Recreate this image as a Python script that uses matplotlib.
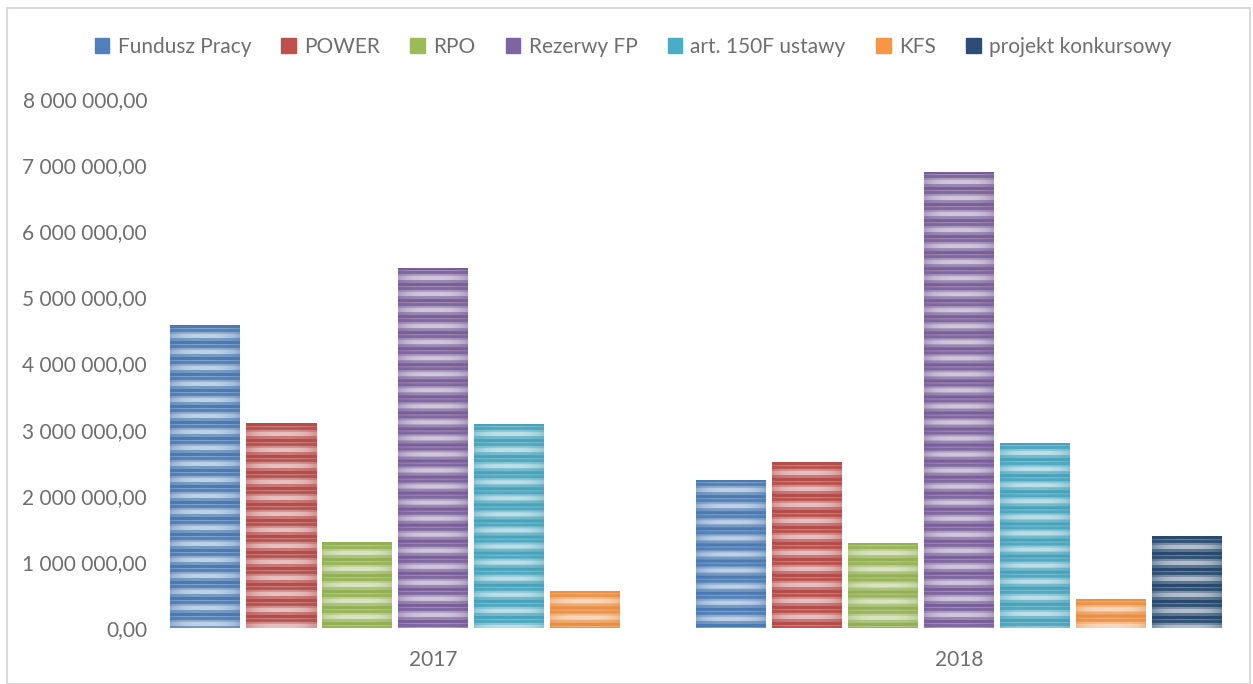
import numpy as np
import matplotlib
matplotlib.use("Agg")
import matplotlib.pyplot as plt
from matplotlib.patches import Rectangle
from matplotlib.ticker import FuncFormatter
from matplotlib.colors import to_rgb

# dane
years = ["2017", "2018"]
series = ["Fundusz Pracy", "POWER", "RPO", "Rezerwy FP",
          "art. 150F ustawy", "KFS", "projekt konkursowy"]
fundusz_pracy = [4580000, 2240000]
power = [3100000, 2510000]
rpo = [1300000, 1290000]
rezerwy_fp = [5450000, 6900000]
art_150f = [3090000, 2800000]
kfs = [560000, 440000]
projekt_konkursowy = [0, 1390000]
values = [fundusz_pracy, power, rpo, rezerwy_fp, art_150f, kfs, projekt_konkursowy]

colors = ["#4F81BD", "#C0504D", "#9BBB59", "#8064A2", "#4BACC6", "#F79646", "#2C4D75"]
text_col = "#6E6E6E"

plt.rcParams['font.family'] = ['Lato', 'DejaVu Sans']

dpi = 100
fig = plt.figure(figsize=(1253 / dpi, 684 / dpi), dpi=dpi)
ax = fig.add_axes([170 / 1253, 56 / 684, 1052 / 1253, 529 / 684])

ymax = 8000000
n = len(series)
# szerokosc grupy = 1 kategoria; slupek 70/526, krok 76/526
bar_w = 70 / 526
step = 76 / 526
x = np.arange(len(years))

# wzor paskow (okres ~16 px), jasnosc w kolejnych fazach
px_per_unit = 529 / ymax
period_px = 16.0
phase_edges = [0.0, 0.18, 0.28, 0.42, 0.55, 0.82, 1.0]
phase_light = [0.0, 0.3, 0.06, 0.4, 0.65, 0.25]


def stripe_image(height, base):
    rows = max(int(round(height * px_per_unit)), 1)
    cols = 60
    yy = (np.arange(rows) + 0.5)
    ph = (yy % period_px) / period_px
    idx = np.searchsorted(phase_edges, ph, side='right') - 1
    light = np.array(phase_light)[np.clip(idx, 0, len(phase_light) - 1)]
    xx = np.linspace(-1, 1, cols)
    edge = 1 - 0.4 * np.abs(xx) ** 3
    mix = light[:, None] * edge[None, :]
    b = np.array(to_rgb(base)) * 0.95
    img = b[None, None, :] * (1 - mix[..., None]) + mix[..., None]
    return img


for i, (name, vals, col) in enumerate(zip(series, values, colors)):
    pos = x - 0.5 + bar_w / 2 + step * i
    bars = ax.bar(pos, vals, width=bar_w, color=col, linewidth=0, label=name)
    for rect, v in zip(bars, vals):
        if v <= 0:
            continue
        x0 = rect.get_x()
        img = stripe_image(v, col)
        im = ax.imshow(img, extent=(x0, x0 + rect.get_width(), 0, v),
                       aspect='auto', interpolation='bilinear', zorder=3)
        im.set_clip_path(rect)

ax.set_xlim(-0.5, len(years) - 0.5)
ax.set_ylim(0, ymax)
ax.set_yticks(np.arange(0, ymax + 1, 1000000))
ax.yaxis.set_major_formatter(FuncFormatter(
    lambda v, p: f"{v:,.2f}".replace(",", " ").replace(".", ",")))
ax.set_xticks(x)
ax.set_xticklabels(years)
ax.tick_params(length=0, labelsize=15, colors=text_col)
ax.tick_params(axis='y', pad=16.5)
ax.tick_params(axis='x', pad=16)
for s in ax.spines.values():
    s.set_visible(False)

handles = [Rectangle((0, 0), 1, 1, color=c) for c in colors]
fig.legend(handles, series, loc='center', bbox_to_anchor=(633 / 1253, 1 - 47 / 684),
           ncol=n, frameon=False, fontsize=15, labelcolor=text_col,
           handlelength=0.7, handleheight=0.7, handletextpad=0.4, columnspacing=1.45)

fig.add_artist(Rectangle((7 / 1253, 0), 1243 / 1253, 1 - 8 / 684, transform=fig.transFigure,
                         fill=False, edgecolor="#D9D9D9", linewidth=1.5))

fig.savefig("out.png", dpi=dpi)
plt.close(fig)
